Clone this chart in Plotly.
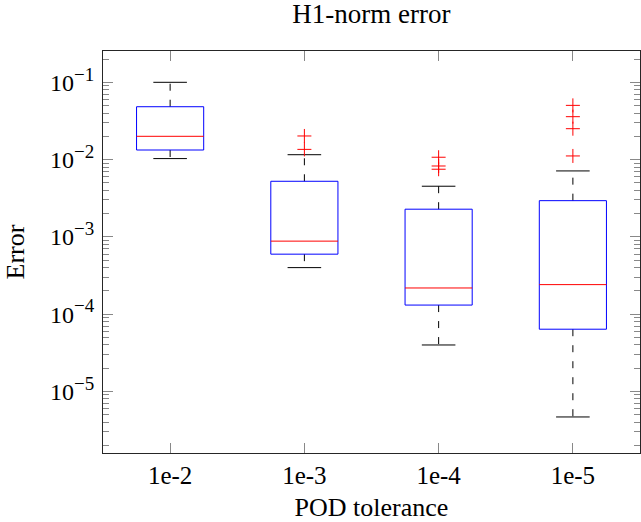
import plotly.graph_objects as go

categories = ["1e-2", "1e-3", "1e-4", "1e-5"]
positions = [1, 2, 3, 4]
upper_whisker = [0.1, 0.01156, 0.00452, 0.00713]
q3 = [0.0483, 0.00524, 0.00228, 0.00294]
median = [0.020, 0.00088, 0.000218, 0.000241]
q1 = [0.0133, 0.000597, 0.000131, 0.0000638]
lower_whisker = [0.0103, 0.0004, 0.0000399, 0.00000467]
outliers = [[], [0.0202, 0.01355], [0.01072, 0.00826, 0.0075], [0.0503, 0.0359, 0.0251, 0.01114]]

y_tickvals = [1e-5, 1e-4, 1e-3, 1e-2, 1e-1]
y_exponents = ["\u22125", "\u22124", "\u22123", "\u22122", "\u22121"]
y_ticktext = ["10<sup><span style='font-size:19px'>" + e + "</span></sup>" for e in y_exponents]

BOX_W = 0.5
CAP_W = 0.25
FONT = "Liberation Serif"
AX = "#262626"

fig = go.Figure()
for i, p in enumerate(positions):
    fig.add_trace(go.Scatter(x=[p, p, None, p, p],
                             y=[q3[i], upper_whisker[i], None, q1[i], lower_whisker[i]],
                             mode="lines", line=dict(color="black", width=1, dash="7px,9px"),
                             showlegend=False, hoverinfo="skip"))
    fig.add_trace(go.Scatter(x=[p - CAP_W / 2, p + CAP_W / 2, None, p - CAP_W / 2, p + CAP_W / 2],
                             y=[upper_whisker[i], upper_whisker[i], None, lower_whisker[i], lower_whisker[i]],
                             mode="lines", line=dict(color="black", width=1),
                             showlegend=False, hoverinfo="skip"))
    fig.add_trace(go.Scatter(x=[p - BOX_W / 2, p + BOX_W / 2, p + BOX_W / 2, p - BOX_W / 2, p - BOX_W / 2],
                             y=[q1[i], q1[i], q3[i], q3[i], q1[i]],
                             mode="lines", line=dict(color="#0000ff", width=1),
                             showlegend=False, hoverinfo="skip"))
    fig.add_trace(go.Scatter(x=[p - BOX_W / 2, p + BOX_W / 2], y=[median[i], median[i]],
                             mode="lines", line=dict(color="#ff0000", width=1),
                             showlegend=False, hoverinfo="skip"))
    if outliers[i]:
        fig.add_trace(go.Scatter(x=[p] * len(outliers[i]), y=outliers[i], mode="markers",
                                 marker=dict(symbol="cross-thin", size=10,
                                             line=dict(color="#ff0000", width=1)),
                                 showlegend=False, hoverinfo="skip"))

minor_vals = [m * 10.0 ** e for e in range(-6, 0) for m in range(2, 10)]

fig.update_layout(
    width=641, height=522,
    margin=dict(l=103, r=1, t=51, b=69),
    paper_bgcolor="white", plot_bgcolor="white",
    font=dict(family=FONT, size=24, color="black"),
    title=dict(text="H1-norm error", x=0.5795, xanchor="center", y=0.975, yref="container",
               yanchor="middle", font=dict(family=FONT, size=27, color="black")),
    xaxis=dict(range=[0.5, 4.5], tickmode="array", tickvals=positions, ticktext=categories,
               ticks="inside", ticklen=10, tickcolor="#888888", tickwidth=1,
               showline=True, linecolor=AX, linewidth=1, mirror="allticks",
               showgrid=False, zeroline=False,
               tickfont=dict(family=FONT, size=25, color="black"),
               title=dict(text="POD tolerance", font=dict(family=FONT, size=26, color="black"), standoff=12)),
    yaxis=dict(type="log", range=[-5.797, -0.595], tickmode="array", tickvals=y_tickvals,
               ticktext=y_ticktext, ticks="inside", ticklen=10, tickcolor="#888888", tickwidth=1,
               showline=True, linecolor=AX, linewidth=1, mirror="allticks",
               showgrid=False, zeroline=False, ticklabelstandoff=3,
               minor=dict(tickmode="array", tickvals=minor_vals, ticks="inside", ticklen=6,
                          tickcolor="#888888", tickwidth=1, showgrid=False),
               tickfont=dict(family=FONT, size=24, color="black"),
               title=dict(text="Error", font=dict(family=FONT, size=26, color="black"), standoff=17)),
)

fig.write_html("out.html")
